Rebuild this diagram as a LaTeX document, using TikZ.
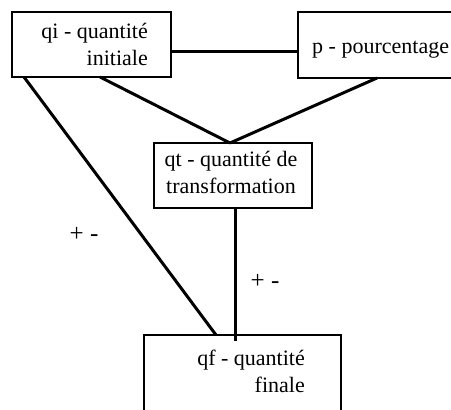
\documentclass[tikz,border=0pt]{standalone}
\usepackage{fontspec}
\setmainfont{Liberation Serif}
\begin{document}
\begin{tikzpicture}[x=1pt,y=-1pt,
  box/.style={draw,line width=2pt,rectangle,inner sep=0pt},
  link/.style={line width=3pt},
  txt/.style={font=\fontsize{22}{27}\selectfont,inner sep=0pt},
  lab/.style={font=\fontsize{25}{26}\selectfont,inner sep=0pt}]
\useasboundingbox (0,0) rectangle (451,410);
% boxes
\node[box,minimum width=159pt,minimum height=65pt] (qi) at (91.5,44.5) {};
\node[box,minimum width=160pt,minimum height=66pt] (p) at (378,45) {};
\node[box,minimum width=158pt,minimum height=65pt] (qt) at (233,175.5) {};
\node[box,minimum width=197pt,minimum height=90pt] (qf) at (242.5,380) {};
% texts (base = baseline of last line)
\node[txt,align=right,anchor=base east] (tqi) at (148,65) {qi - quantité\\initiale};
\node[txt,anchor=base west] (tp) at (312,53) {p - pourcentage};
\node[txt,align=center,anchor=base] (tqt) at (231,193) {qt - quantité de\\transformation};
\node[txt,align=right,anchor=base east] (tqf) at (305,392) {qf - quantité\\finale};
% connector coordinates
\coordinate (a1) at (qi.east |- 0,51);
\coordinate (a2) at (p.west |- 0,51);
\coordinate (b1) at (100,77);
\coordinate (b2) at (230,143);
\coordinate (c1) at (377,78);
\coordinate (d1) at (24,77);
\coordinate (d2) at (216,335);
\coordinate (e1) at (235,208);
\coordinate (e2) at (235,341);
% connectors
\draw[link] (a1) -- (a2);
\draw[link] (b1) -- (b2);
\draw[link] (c1) -- (b2);
\draw[link] (d1) -- (d2);
\draw[link] (e1) -- (e2);
% labels
\node[lab] (l1) at (84,234) {+ -};
\node[lab] (l2) at (265,281) {+ -};
\end{tikzpicture}
\end{document}
